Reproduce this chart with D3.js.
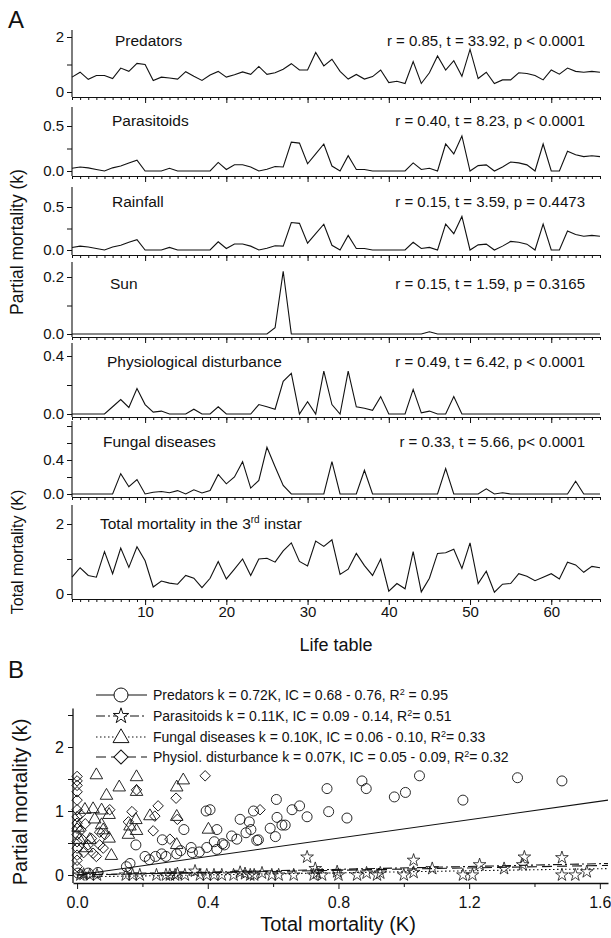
<!DOCTYPE html>
<html>
<head>
<meta charset="utf-8">
<script src="https://cdn.jsdelivr.net/npm/d3@7"></script>
<style>
  body { margin: 0; background: #fff; }
  svg { display: block; font-family: "Liberation Sans", Arial, sans-serif; }
</style>
</head>
<body>
<div id="chart"></div>
<script>
// ---- panel A data: partial mortality per life table (1..66) ----
const predators = [0.54, 0.72, 0.46, 0.6, 0.6, 0.49, 0.87, 0.75, 1.04, 1.0, 0.42, 0.54, 0.51, 0.47, 0.74, 0.57, 0.42, 0.62, 0.75, 0.54,
  0.63, 0.73, 0.64, 0.93, 0.64, 0.7, 0.83, 1.03, 0.8, 0.8, 1.44, 0.95, 1.19, 0.75, 0.47, 0.64, 0.47, 0.56, 0.8, 0.34,
  0.39, 0.31, 1.11, 0.31, 0.7, 1.31, 0.8, 1.14, 0.57, 1.55, 0.49, 0.72, 0.31, 0.44, 0.44, 0.7, 0.67, 0.6, 0.44, 0.8,
  0.65, 0.87, 0.75, 0.72, 0.75, 0.72];
const parasitoids = [0.03, 0.045, 0.035, 0.017, 0, 0.035, 0.055, 0.09, 0.12, 0, 0, 0, 0.03, 0, 0, 0, 0, 0, 0.095, 0.017,
  0.07, 0.07, 0.045, 0, 0.02, 0.05, 0.045, 0.32, 0.31, 0.08, 0.19, 0.3, 0.055, 0, 0.17, 0.017, 0.017, 0, 0, 0,
  0, 0, 0.09, 0.017, 0.03, 0, 0.3, 0.19, 0.39, 0, 0.06, 0.068, 0, 0.045, 0.1, 0.09, 0.068, 0, 0.3, 0,
  0, 0.22, 0.18, 0.16, 0.17, 0.16];
const rainfall = [0.03, 0.045, 0.035, 0.017, 0, 0.035, 0.055, 0.09, 0.12, 0, 0, 0, 0.03, 0, 0, 0, 0, 0, 0.095, 0.017,
  0.07, 0.07, 0.045, 0, 0.02, 0.05, 0.045, 0.32, 0.31, 0.08, 0.19, 0.3, 0.055, 0, 0.17, 0.017, 0.017, 0, 0, 0,
  0, 0, 0.09, 0.017, 0.03, 0, 0.3, 0.19, 0.39, 0, 0.06, 0.068, 0, 0.045, 0.1, 0.09, 0.068, 0, 0.3, 0,
  0, 0.22, 0.18, 0.16, 0.17, 0.16];
const sun = [0, 0, 0, 0, 0, 0, 0, 0, 0, 0, 0, 0, 0, 0, 0, 0, 0, 0, 0, 0,
  0, 0, 0, 0, 0, 0.022, 0.22, 0, 0, 0, 0, 0, 0, 0, 0, 0, 0, 0, 0, 0,
  0, 0, 0, 0, 0.008, 0, 0, 0, 0, 0, 0, 0, 0, 0, 0, 0, 0, 0, 0, 0,
  0, 0, 0, 0, 0, 0];
const physiological = [0, 0, 0, 0, 0, 0.05, 0.1, 0.045, 0.175, 0.065, 0.013, 0.02, 0, 0, 0, 0.033, 0, 0, 0.05, 0,
  0, 0, 0, 0.065, 0.05, 0.033, 0.225, 0.28, 0, 0.085, 0, 0.295, 0.065, 0, 0.295, 0.05, 0.04, 0.025, 0.12, 0,
  0, 0, 0.17, 0.008, 0.02, 0, 0, 0.12, 0, 0, 0, 0, 0, 0, 0, 0, 0, 0, 0, 0,
  0, 0, 0, 0, 0, 0];
const fungal = [0, 0, 0, 0, 0, 0, 0.24, 0.085, 0.17, 0, 0.02, 0.03, 0.015, 0.04, 0, 0.05, 0.012, 0.04, 0.23, 0.12,
  0.2, 0.38, 0.07, 0.16, 0.55, 0.32, 0.1, 0, 0, 0, 0, 0, 0.38, 0, 0, 0, 0.28, 0, 0, 0,
  0, 0, 0, 0, 0, 0, 0.3, 0, 0, 0, 0, 0.06, 0, 0.015, 0, 0, 0, 0, 0, 0,
  0, 0, 0.15, 0, 0, 0];
const totalMortality = [0.48, 0.75, 0.53, 0.48, 1.21, 0.58, 1.31, 0.76, 1.35, 0.95, 0.2, 0.37, 0.31, 0.28, 0.53, 0.45, 0.18, 0.45, 0.93, 0.43,
  0.71, 1.0, 0.53, 1.0, 1.02, 0.91, 1.23, 1.46, 0.93, 0.8, 1.51, 1.36, 1.55, 0.56, 0.71, 1.16, 0.81, 0.53, 1.0, 0.08,
  0.3, 0.15, 1.21, 0.06, 0.45, 1.16, 1.18, 1.28, 0.73, 1.46, 0.3, 0.65, 0.05, 0.28, 0.3, 0.58, 0.51, 0.38, 0.48, 0.58,
  0.43, 0.91, 0.83, 0.62, 0.79, 0.75];

const seriesNames = ['Predators', 'Parasitoids', 'Rainfall', 'Sun', 'Physiological disturbance', 'Fungal diseases', 'Total mortality in the 3'];
const statTexts = ['r = 0.85, t = 33.92, p < 0.0001', 'r = 0.40, t = 8.23, p < 0.0001', 'r = 0.15, t = 3.59, p = 0.4473',
  'r = 0.15, t = 1.59, p = 0.3165', 'r = 0.49, t = 6.42, p < 0.0001', 'r = 0.33, t = 5.66, p< 0.0001', ''];
const yTickValues = [[0, 1, 2], [0, 0.25, 0.5], [0, 0.25, 0.5], [0, 0.1, 0.2], [0, 0.2, 0.4], [0, 0.2, 0.4, 0.6, 0.8], [0, 1, 2]];
const yTickLabels = [[0, 2], [0, 0.5], [0, 0.5], [0, 0.2], [0, 0.4], [0, 0.4], [0, 2]];
const lifeTableTicks = [10, 20, 30, 40, 50, 60];

// ---- panel B data: [total mortality K, partial mortality k] ----
const predatorPoints = [[0.003, 0.03], [0.034, 0.03], [0.064, 0.04], [0.151, 0.13], [0.162, 0.18], [0.18, 0.47], [0.208, 0.29], [0.221, 0.24],
  [0.24, 0.29], [0.259, 0.33], [0.261, 0.55], [0.272, 0.29], [0.305, 0.33], [0.317, 0.38], [0.327, 0.71], [0.349, 0.43], [0.353, 0.35],
  [0.374, 0.36], [0.395, 1.0], [0.397, 0.43], [0.407, 1.02], [0.42, 0.52], [0.428, 0.4], [0.428, 0.71], [0.445, 0.49], [0.451, 0.47],
  [0.473, 0.61], [0.489, 0.56], [0.499, 0.87], [0.517, 0.66], [0.527, 0.83], [0.532, 0.71], [0.54, 1.0], [0.55, 0.54], [0.555, 0.55],
  [0.591, 0.73], [0.607, 0.6], [0.61, 1.18], [0.612, 0.9], [0.627, 0.78], [0.637, 0.78], [0.658, 1.02], [0.681, 1.08], [0.704, 0.91],
  [0.765, 1.35], [0.77, 0.99], [0.826, 0.89], [0.872, 1.47], [0.885, 1.35], [0.971, 1.22], [1.005, 1.29], [1.048, 1.55], [1.181, 1.17],
  [1.348, 1.52], [1.484, 1.47]];
const parasitoidPoints = [[0.01, 0], [0.02, 0.01], [0.039, 0], [0.061, 0], [0.149, 0], [0.17, 0], [0.192, 0], [0.243, 0], [0.272, 0], [0.284, 0],
  [0.3, 0], [0.307, 0.02], [0.33, 0], [0.361, 0.06], [0.376, 0], [0.397, 0], [0.419, 0], [0.443, 0], [0.479, 0], [0.499, 0.04],
  [0.514, 0.02], [0.53, 0], [0.542, 0], [0.566, 0.03], [0.596, 0], [0.617, 0], [0.663, 0], [0.704, 0.28], [0.724, 0], [0.729, 0.1],
  [0.734, 0.03], [0.75, 0], [0.796, 0.05], [0.8, 0], [0.857, 0], [0.886, 0.03], [0.918, 0], [0.928, 0.03], [1.0, 0], [1.03, 0.23],
  [1.03, 0.04], [1.087, 0.1], [1.181, 0], [1.21, 0], [1.232, 0.16], [1.307, 0.1], [1.364, 0.16], [1.369, 0.28], [1.484, 0.27],
  [1.484, 0], [1.525, 0], [1.56, 0.05]];
const fungalPoints = [[0.003, 0.74], [0.008, 0.55], [0.024, 1.02], [0.029, 0.42], [0.039, 0.55], [0.049, 1.03], [0.054, 0.87], [0.059, 1.56],
  [0.075, 1.01], [0.075, 0.78], [0.08, 0.7], [0.09, 1.24], [0.098, 0.94], [0.098, 0.57], [0.105, 0.3], [0.129, 1.37], [0.157, 0.63],
  [0.162, 0.76], [0.18, 0.86], [0.182, 1.53], [0.182, 1.3], [0.182, 0.69], [0.223, 0.92], [0.305, 1.37], [0.305, 0.91], [0.305, 0.47],
  [0.325, 1.48], [0.402, 0.71]];
const physioPoints = [[0, 1.54], [0, 1.47], [0, 1.4], [0, 1.3], [0, 1.17], [0, 1.02], [0, 0.91], [0, 0.81], [0, 0.73], [0, 0.63], [0, 0.52],
  [0, 0.42], [0, 0.31], [0, 0.23], [0, 0.13], [0.01, 0.95], [0.012, 0.7], [0.02, 0.35], [0.025, 0.8], [0.017, 0.55], [0.034, 0.47],
  [0.044, 0.57], [0.049, 0.34], [0.059, 0.29], [0.069, 0.47], [0.069, 0.67], [0.08, 0.42], [0.085, 0.63], [0.1, 1.02], [0.157, 0.83],
  [0.168, 0.99], [0.182, 1.33], [0.233, 0.69], [0.238, 0.92], [0.248, 1.08], [0.284, 0.56], [0.303, 1.2], [0.307, 0.87], [0.392, 1.55],
  [0.56, 1.02]];

// regression lines, ends
const fitLines = [[[0, 0], [1.625, 1.17]], [[0, 0], [1.625, 0.18]], [[0, -0.03], [1.625, 0.1]], [[0, 0], [1.625, 0.15]]];
const legendNames = ['Predators k = 0.72K, IC = 0.68 - 0.76, R', 'Parasitoids k = 0.11K, IC = 0.09 - 0.14, R',
  'Fungal diseases k = 0.10K, IC = 0.06 - 0.10, R', 'Physiol. disturbance k = 0.07K, IC = 0.05 - 0.09, R'];
const legendTails = [' = 0.95', '= 0.51', '= 0.33', '= 0.32'];
const xTicksB = [0, 0.2, 0.4, 0.6, 0.8, 1.0, 1.2, 1.4, 1.6];
const yTicksB = [0, 0.5, 1, 1.5, 2, 2.5];

// ---------------------------------------------------------------
const W = 611, H = 938;
const svg = d3.select('#chart').append('svg').attr('width', W).attr('height', H);

const allSeries = [predators, parasitoids, rainfall, sun, physiological, fungal, totalMortality];
// zero / reference tick positions and axis extents of each strip
const strips = [
  { zero: 92, ref: 37, top: 30, bottom: 97, textY: 46, nameX: 115 },
  { zero: 171, ref: 126, top: 107, bottom: 176, textY: 126, nameX: 112 },
  { zero: 250, ref: 207, top: 187, bottom: 255, textY: 207, nameX: 112 },
  { zero: 334, ref: 277, top: 262, bottom: 337, textY: 289, nameX: 110 },
  { zero: 414, ref: 356, top: 343, bottom: 417, textY: 367, nameX: 107 },
  { zero: 494, ref: 460, top: 421, bottom: 497, textY: 447, nameX: 103 },
  { zero: 594, ref: 524, top: 505, bottom: 599, textY: 529, nameX: 100 }
];

const xA = d3.scaleLinear().domain([1, 66]).range([72, 600]);
const line = d3.line().x((d, i) => xA(i + 1));
const fontA = 15;

strips.forEach((s, k) => {
  const ticks = yTickValues[k];
  const refVal = yTickLabels[k][1];
  const y = d3.scaleLinear().domain([0, refVal]).range([s.zero, s.ref]);
  const fmt = (k === 0 || k === 6) ? d3.format('d') : d3.format('.1f');
  const g = svg.append('g');

  // left axis
  const ya = g.append('g').attr('transform', `translate(${xA(1)},0)`)
    .call(d3.axisLeft(y).tickValues(ticks).tickSize(5).tickSizeOuter(0)
      .tickFormat(d => yTickLabels[k].includes(d) ? fmt(d) : ''));
  ya.select('.domain').remove();
  ya.selectAll('text').attr('font-size', fontA).attr('font-family', null).attr('fill', '#111').attr('x', -8);
  ya.selectAll('line').attr('stroke', '#111');
  g.append('line').attr('x1', xA(1)).attr('x2', xA(1)).attr('y1', s.top).attr('y2', s.bottom)
    .attr('stroke', '#111').attr('stroke-width', 1.1);

  // bottom axis: minor ticks every life table, major every 10
  const xa = g.append('g').attr('transform', `translate(0,${s.bottom})`)
    .call(d3.axisBottom(xA).tickValues(d3.range(1, 67)).tickSize(3).tickSizeOuter(0).tickFormat(''));
  xa.select('.domain').attr('stroke', '#111').attr('stroke-width', 1.1);
  xa.selectAll('line').attr('stroke', '#111');
  const xm = g.append('g').attr('transform', `translate(0,${s.bottom})`)
    .call(d3.axisBottom(xA).tickValues(lifeTableTicks).tickSize(6).tickSizeOuter(0)
      .tickFormat(k === 6 ? d3.format('d') : ''));
  xm.select('.domain').remove();
  xm.selectAll('line').attr('stroke', '#111');
  xm.selectAll('text').attr('font-size', fontA).attr('font-family', null).attr('fill', '#111').attr('dy', '0.62em');

  // series line
  g.append('path').datum(allSeries[k])
    .attr('fill', 'none').attr('stroke', '#111').attr('stroke-width', 1.1)
    .attr('stroke-linejoin', 'miter')
    .attr('d', line.y(d => y(d)));

  // labels
  const nm = g.append('text').attr('x', s.nameX).attr('y', s.textY).attr('font-size', 15.5).attr('fill', '#111')
    .text(seriesNames[k]);
  if (k === 6) {
    nm.append('tspan').attr('dy', -6).attr('font-size', 10).text('rd');
    nm.append('tspan').attr('dy', 6).text(' instar');
  }
  if (statTexts[k]) {
    g.append('text').attr('x', 585).attr('y', s.textY).attr('text-anchor', 'end')
      .attr('font-size', fontA).attr('fill', '#111').text(statTexts[k]);
  }
});

svg.append('text').attr('x', 8).attr('y', 28).attr('font-size', 24).attr('fill', '#111').text('A');
svg.append('text').attr('x', 336).attr('y', 651).attr('text-anchor', 'middle').attr('font-size', 18).attr('fill', '#111').text('Life table');
svg.append('text').attr('transform', 'translate(23,242) rotate(-90)').attr('text-anchor', 'middle')
  .attr('font-size', 17.5).attr('fill', '#111').text('Partial mortality (k)');
svg.append('text').attr('transform', 'translate(23,552) rotate(-90)').attr('text-anchor', 'middle')
  .attr('font-size', 16).attr('fill', '#111').text('Total mortality (K)');

// ---------------- panel B ----------------
const xB = d3.scaleLinear().domain([-0.0125, 1.625]).range([73, 608]);
const yB = d3.scaleLinear().domain([0, 2]).range([875, 747]);
const axisY = 883;
const gB = svg.append('g');

svg.append('text').attr('x', 8).attr('y', 678).attr('font-size', 24).attr('fill', '#111').text('B');

const xbA = gB.append('g').attr('transform', `translate(0,${axisY})`)
  .call(d3.axisBottom(xB).tickValues(xTicksB).tickSize(5).tickSizeOuter(0)
    .tickFormat(d => (Math.round(d * 10) % 4 === 0) ? d3.format('.1f')(d) : ''));
xbA.select('.domain').attr('stroke', '#111').attr('stroke-width', 1.3);
xbA.selectAll('line').attr('stroke', '#111').attr('y2', d => (Math.round(d * 10) % 4 === 0) ? 6 : 4);
xbA.selectAll('text').attr('font-size', 16).attr('font-family', null).attr('fill', '#111').attr('dy', '1.05em');

const ybA = gB.append('g').attr('transform', `translate(${xB(-0.0125)},0)`)
  .call(d3.axisLeft(yB).tickValues(yTicksB).tickSize(5).tickSizeOuter(0)
    .tickFormat(d => Number.isInteger(d) ? d3.format('d')(d) : ''));
ybA.select('.domain').remove();
ybA.selectAll('line').attr('stroke', '#111');
ybA.selectAll('text').attr('font-size', 16).attr('font-family', null).attr('fill', '#111').attr('x', -9);
gB.append('line').attr('x1', xB(-0.0125)).attr('x2', xB(-0.0125)).attr('y1', yB(2.6)).attr('y2', axisY)
  .attr('stroke', '#111').attr('stroke-width', 1.3);

svg.append('text').attr('x', 338).attr('y', 931).attr('text-anchor', 'middle').attr('font-size', 20).attr('fill', '#111')
  .text('Total mortality (K)');
svg.append('text').attr('transform', 'translate(27,802) rotate(-90)').attr('text-anchor', 'middle')
  .attr('font-size', 20).attr('fill', '#111').text('Partial mortality (k)');

// regression lines
const dashes = [null, '9,3,2,3', '1.5,2.5', '10,5'];
fitLines.forEach((l, i) => {
  gB.append('line')
    .attr('x1', xB(l[0][0])).attr('y1', yB(l[0][1]))
    .attr('x2', xB(l[1][0])).attr('y2', yB(l[1][1]))
    .attr('stroke', '#111').attr('stroke-width', 1.1)
    .attr('stroke-dasharray', dashes[i]);
});

// symbols
const diamond = d3.symbol().type(d3.symbolSquare).size(55);
const tri = d3.symbol().type(d3.symbolTriangle).size(68);
const star = d3.symbol().type(d3.symbolStar).size(50);

gB.selectAll('path.dia').data(physioPoints).join('path').attr('class', 'dia')
  .attr('transform', d => `translate(${xB(d[0])},${yB(d[1])}) rotate(45)`)
  .attr('d', diamond).attr('fill', 'none').attr('stroke', '#111').attr('stroke-width', 0.9);
gB.selectAll('path.tri').data(fungalPoints).join('path').attr('class', 'tri')
  .attr('transform', d => `translate(${xB(d[0])},${yB(d[1])})`)
  .attr('d', tri).attr('fill', 'none').attr('stroke', '#111').attr('stroke-width', 0.9);
gB.selectAll('circle.pred').data(predatorPoints).join('circle').attr('class', 'pred')
  .attr('cx', d => xB(d[0])).attr('cy', d => yB(d[1])).attr('r', 5)
  .attr('fill', 'none').attr('stroke', '#111').attr('stroke-width', 0.9);
gB.selectAll('path.star').data(parasitoidPoints).join('path').attr('class', 'star')
  .attr('transform', d => `translate(${xB(d[0])},${yB(d[1])})`)
  .attr('d', star).attr('fill', 'none').attr('stroke', '#111').attr('stroke-width', 0.8);

// legend
const legY = [695, 716, 737, 757];
const lg = svg.append('g');
legendNames.forEach((name, i) => {
  const yy = legY[i];
  lg.append('line').attr('x1', 96).attr('x2', 147).attr('y1', yy).attr('y2', yy)
    .attr('stroke', '#111').attr('stroke-width', 1.1).attr('stroke-dasharray', dashes[i]);
  let sym;
  if (i === 0) sym = lg.append('circle').attr('cx', 121).attr('cy', yy).attr('r', 7);
  else if (i === 1) sym = lg.append('path').attr('transform', `translate(121,${yy})`).attr('d', d3.symbol().type(d3.symbolStar).size(75)());
  else if (i === 2) sym = lg.append('path').attr('transform', `translate(121,${yy + 1})`).attr('d', d3.symbol().type(d3.symbolTriangle).size(110)());
  else sym = lg.append('path').attr('transform', `translate(121,${yy}) rotate(45)`).attr('d', d3.symbol().type(d3.symbolSquare).size(100)());
  sym.attr('fill', '#fff').attr('stroke', '#111').attr('stroke-width', 1);
  const t = lg.append('text').attr('x', 153).attr('y', yy + 5).attr('font-size', 14).attr('fill', '#111').text(name);
  t.append('tspan').attr('dy', -5.5).attr('font-size', 9).text('2');
  t.append('tspan').attr('dy', 5.5).text(legendTails[i]);
});
</script>
</body>
</html>
